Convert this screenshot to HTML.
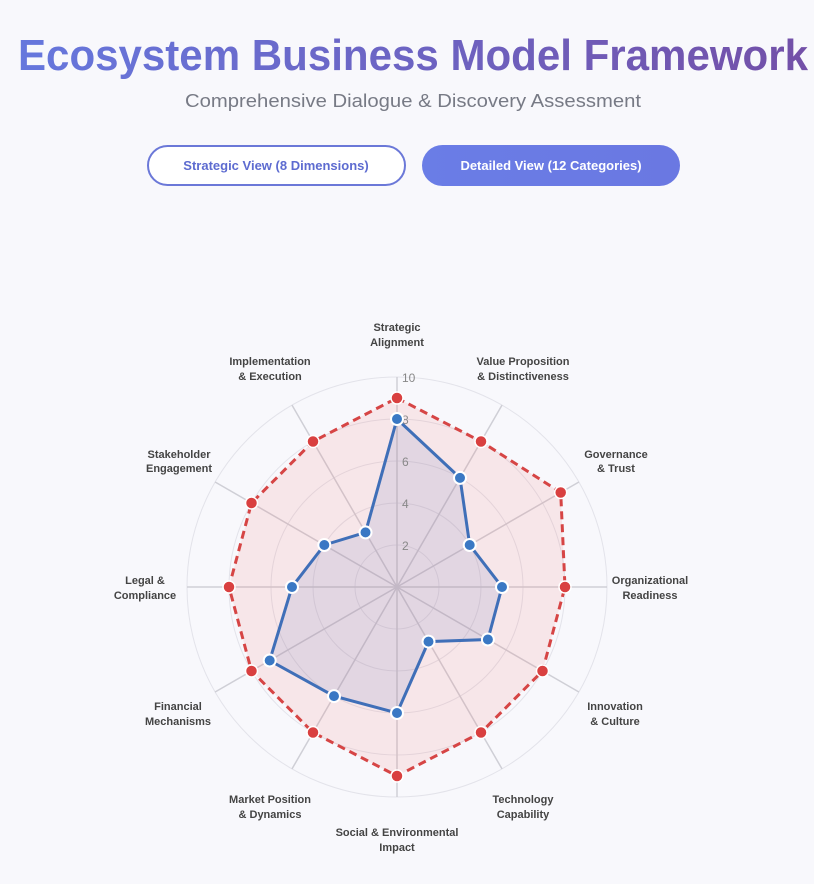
<!DOCTYPE html>
<html><head><meta charset="utf-8"><style>
html,body{margin:0;padding:0;background:#f8f8fc;}
svg{display:block;}
</style></head><body>
<svg width="814" height="884" viewBox="0 0 814 884" xmlns="http://www.w3.org/2000/svg" font-family="Liberation Sans, sans-serif">
<defs>
<linearGradient id="tg" x1="0" x2="1" y1="0" y2="0"><stop offset="0" stop-color="#6677dd"/><stop offset="1" stop-color="#7350a8"/></linearGradient>
<linearGradient id="bg" x1="0" x2="1"><stop offset="0" stop-color="#6a7de6"/><stop offset="1" stop-color="#6a78e2"/></linearGradient>
</defs>
<rect width="814" height="884" fill="#f8f8fc"/>
<text x="413" y="70" text-anchor="middle" font-size="44" font-weight="bold" fill="url(#tg)" textLength="790" lengthAdjust="spacingAndGlyphs">Ecosystem Business Model Framework</text>
<text x="413" y="107" text-anchor="middle" font-size="18" fill="#777a85" textLength="456" lengthAdjust="spacingAndGlyphs">Comprehensive Dialogue &amp; Discovery Assessment</text>
<rect x="148" y="146" width="257" height="39" rx="19.5" fill="#fff" stroke="#6b78d8" stroke-width="2"/>
<text x="276" y="170" text-anchor="middle" font-size="13" font-weight="bold" fill="#5d6bd0">Strategic View (8 Dimensions)</text>
<rect x="422" y="145" width="258" height="41" rx="20.5" fill="url(#bg)"/>
<text x="551" y="170" text-anchor="middle" font-size="13" font-weight="bold" fill="#fff">Detailed View (12 Categories)</text>

<g fill="none" stroke="#e3e3ea" stroke-width="1">
<circle cx="397" cy="587" r="210"/><circle cx="397" cy="587" r="168"/><circle cx="397" cy="587" r="126"/><circle cx="397" cy="587" r="84"/><circle cx="397" cy="587" r="42"/>
</g>
<g stroke="#cfcfd6" stroke-width="1.5">
<line x1="397" y1="587" x2="397" y2="377"/><line x1="397" y1="587" x2="502" y2="405.1"/><line x1="397" y1="587" x2="578.9" y2="482"/><line x1="397" y1="587" x2="607" y2="587"/><line x1="397" y1="587" x2="578.9" y2="692"/><line x1="397" y1="587" x2="502" y2="768.9"/><line x1="397" y1="587" x2="397" y2="797"/><line x1="397" y1="587" x2="292" y2="768.9"/><line x1="397" y1="587" x2="215.1" y2="692"/><line x1="397" y1="587" x2="187" y2="587"/><line x1="397" y1="587" x2="215.1" y2="482"/><line x1="397" y1="587" x2="292" y2="405.1"/>
</g>
<polygon points="397,398 481,441.5 560.7,492.5 565,587 542.5,671 481,732.5 397,776 313,732.5 251.5,671 229,587 251.5,503 313,441.5" fill="rgba(240,110,110,0.13)" stroke="#d64545" stroke-width="3" stroke-dasharray="8,5"/>
<polygon points="397,419 460,477.9 469.7,545 502,587 487.9,639.5 428.5,641.6 397,713 334,696.1 269.7,660.5 292,587 324.3,545 365.5,532.4" fill="rgba(110,130,190,0.15)" stroke="#3f6fb8" stroke-width="3"/>
<g font-size="12" fill="#888">
<text x="402" y="382">10</text><text x="402" y="424">8</text><text x="402" y="466">6</text><text x="402" y="508">4</text><text x="402" y="550">2</text>
</g>
<g fill="#d94040" stroke="#fff" stroke-width="1.5">
<circle cx="397" cy="398" r="6"/><circle cx="481" cy="441.5" r="6"/><circle cx="560.7" cy="492.5" r="6"/><circle cx="565" cy="587" r="6"/><circle cx="542.5" cy="671" r="6"/><circle cx="481" cy="732.5" r="6"/><circle cx="397" cy="776" r="6"/><circle cx="313" cy="732.5" r="6"/><circle cx="251.5" cy="671" r="6"/><circle cx="229" cy="587" r="6"/><circle cx="251.5" cy="503" r="6"/><circle cx="313" cy="441.5" r="6"/>
</g>
<g fill="#3a78c4" stroke="#fff" stroke-width="2">
<circle cx="397" cy="419" r="6"/><circle cx="460" cy="477.9" r="6"/><circle cx="469.7" cy="545" r="6"/><circle cx="502" cy="587" r="6"/><circle cx="487.9" cy="639.5" r="6"/><circle cx="428.5" cy="641.6" r="6"/><circle cx="397" cy="713" r="6"/><circle cx="334" cy="696.1" r="6"/><circle cx="269.7" cy="660.5" r="6"/><circle cx="292" cy="587" r="6"/><circle cx="324.3" cy="545" r="6"/><circle cx="365.5" cy="532.4" r="6"/>
</g>
<g font-size="11" font-weight="bold" fill="#444" text-anchor="middle">
<text x="397" y="331">Strategic</text><text x="397" y="346">Alignment</text>
<text x="523" y="365">Value Proposition</text><text x="523" y="380">&amp; Distinctiveness</text>
<text x="616" y="458">Governance</text><text x="616" y="472">&amp; Trust</text>
<text x="650" y="584">Organizational</text><text x="650" y="599">Readiness</text>
<text x="615" y="710">Innovation</text><text x="615" y="725">&amp; Culture</text>
<text x="523" y="803">Technology</text><text x="523" y="818">Capability</text>
<text x="397" y="836">Social &amp; Environmental</text><text x="397" y="851">Impact</text>
<text x="270" y="803">Market Position</text><text x="270" y="818">&amp; Dynamics</text>
<text x="178" y="710">Financial</text><text x="178" y="725">Mechanisms</text>
<text x="145" y="584">Legal &amp;</text><text x="145" y="599">Compliance</text>
<text x="179" y="458">Stakeholder</text><text x="179" y="472">Engagement</text>
<text x="270" y="365">Implementation</text><text x="270" y="380">&amp; Execution</text>
</g>
</svg>
</body></html>
